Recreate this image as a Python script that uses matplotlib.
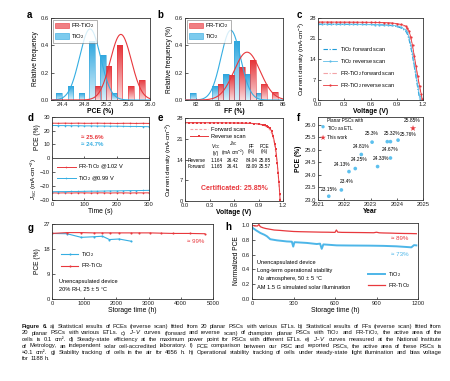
import numpy as np
import matplotlib
matplotlib.use("Agg")
import matplotlib.pyplot as plt
from matplotlib.colors import LinearSegmentedColormap
from matplotlib.patches import Patch
from matplotlib.ticker import FormatStrFormatter

plt.rcParams['font.family'] = ['Liberation Sans', 'DejaVu Sans']
plt.rcParams['mathtext.fontset'] = 'custom'
plt.rcParams['mathtext.rm'] = 'Liberation Sans'
plt.rcParams['mathtext.it'] = 'Liberation Sans:italic'
plt.rcParams['mathtext.bf'] = 'Liberation Sans:bold'

RED = '#e8383d'
BLUE = '#35aee2'
PINK = '#f3a3a6'

# --- a) PCE histogram (relative frequency), bins and gaussian fits (amp, centre, sigma)
pce_bins_ti = [24.4, 24.6, 24.8, 25.0, 25.2, 25.4]
pce_freq_ti = [0.05, 0.10, 0.05, 0.43, 0.33, 0.05]
pce_bins_fr = [25.0, 25.2, 25.4, 25.6, 25.8]
pce_freq_fr = [0.10, 0.25, 0.40, 0.10, 0.15]
pce_fit_ti = (0.52, 24.91, 0.19)
pce_fit_fr = (0.48, 25.47, 0.19)

# --- b) FF histogram
ff_bins_ti = [82.0, 83.0, 83.5, 84.0, 84.5, 85.0]
ff_freq_ti = [0.05, 0.10, 0.19, 0.43, 0.19, 0.05]
ff_bins_fr = [83.0, 83.5, 84.0, 84.5, 85.0, 85.5]
ff_freq_fr = [0.12, 0.18, 0.24, 0.29, 0.12, 0.06]
ff_fit_ti = (0.51, 83.6, 0.45)
ff_fit_fr = (0.35, 84.35, 0.60)

# --- c) J-V curves of champion cells
v_fr_rev = [0.0, 0.05, 0.1, 0.15, 0.2, 0.25, 0.3, 0.35, 0.4, 0.45, 0.5, 0.55, 0.6, 0.65, 0.7, 0.75, 0.8, 0.85, 0.9, 0.95,
            1.0, 1.02, 1.04, 1.06, 1.08, 1.1, 1.12, 1.14, 1.16, 1.18, 1.19]
j_fr_rev = [26.62, 26.62, 26.61, 26.61, 26.6, 26.6, 26.59, 26.59, 26.58, 26.57, 26.56, 26.55, 26.53, 26.51, 26.48, 26.44,
            26.38, 26.28, 26.1, 25.8, 25.3, 24.6, 23.6, 21.5, 18.7, 15.1, 11.6, 8.1, 4.8, 2.0, 0.5]
v_fr_fwd = [0.0, 0.1, 0.2, 0.3, 0.4, 0.5, 0.6, 0.7, 0.8, 0.85, 0.9, 0.95, 1.0, 1.02, 1.04, 1.06, 1.08, 1.1, 1.12, 1.14,
            1.16, 1.18, 1.185]
j_fr_fwd = [26.55, 26.54, 26.53, 26.52, 26.5, 26.48, 26.45, 26.4, 26.3, 26.18, 25.95, 25.55, 24.9, 24.1, 22.9, 20.8,
            18.0, 14.6, 11.2, 7.7, 4.4, 1.4, 0.3]
v_ti_rev = [0.0, 0.05, 0.1, 0.15, 0.2, 0.25, 0.3, 0.35, 0.4, 0.45, 0.5, 0.55, 0.6, 0.65, 0.7, 0.75, 0.8, 0.85, 0.9, 0.95,
            1.0, 1.02, 1.04, 1.06, 1.08, 1.1, 1.12, 1.14, 1.16, 1.17]
j_ti_rev = [25.92, 25.92, 25.91, 25.91, 25.9, 25.9, 25.89, 25.88, 25.87, 25.86, 25.85, 25.83, 25.81, 25.78, 25.74, 25.69,
            25.62, 25.5, 25.3, 24.9, 24.0, 23.3, 21.4, 18.9, 15.8, 12.3, 8.6, 4.9, 1.4, 0.2]
v_ti_fwd = [0.0, 0.1, 0.2, 0.3, 0.4, 0.5, 0.6, 0.7, 0.8, 0.85, 0.9, 0.95, 1.0, 1.02, 1.04, 1.06, 1.08, 1.1, 1.12, 1.14,
            1.16]
j_ti_fwd = [25.85, 25.84, 25.83, 25.82, 25.8, 25.78, 25.74, 25.66, 25.52, 25.38, 25.12, 24.6, 23.6, 22.6, 20.7, 18.1,
            15.0, 11.5, 7.8, 4.1, 0.6]

# --- d) steady-state output at MPP
t_d = [0, 20, 40, 60, 80, 100, 120, 140, 160, 180, 200, 220, 240, 260, 280, 300]
pce_d_fr = [25.5, 25.4, 25.5, 25.4, 25.5, 25.4, 25.4, 25.5, 25.4, 25.4, 25.3, 25.4, 25.4, 25.3, 25.4, 25.3]
pce_d_ti = [23.8, 23.7, 23.7, 23.6, 23.6, 23.5, 23.5, 23.4, 23.4, 23.3, 23.3, 23.2, 23.1, 23.1, 23.0, 22.9]
jsc_d_fr = [-24.9, -25.0, -24.9, -25.0, -24.9, -24.9, -25.0, -24.9, -24.9, -25.0, -24.9, -24.9, -25.0, -24.9, -24.9, -24.9]
jsc_d_ti = [-24.1, -24.0, -24.0, -23.9, -23.9, -23.8, -23.7, -23.7, -23.6, -23.5, -23.5, -23.4, -23.3, -23.3, -23.2, -23.1]

# --- e) certified J-V
v_e_rev = [0.0, 0.05, 0.1, 0.15, 0.2, 0.25, 0.3, 0.35, 0.4, 0.45, 0.5, 0.55, 0.6, 0.65, 0.7, 0.75, 0.8, 0.85, 0.9, 0.95,
           0.98, 1.0, 1.02, 1.04, 1.06, 1.08, 1.1, 1.11, 1.12, 1.13, 1.14, 1.15, 1.16, 1.164]
j_e_rev = [26.42, 26.42, 26.41, 26.41, 26.4, 26.4, 26.39, 26.39, 26.38, 26.37, 26.36, 26.35, 26.33, 26.31, 26.29, 26.26,
           26.21, 26.13, 26.0, 25.75, 25.5, 25.3, 25.0, 24.6, 23.6, 21.9, 19.3, 17.6, 15.3, 12.7, 9.6, 6.3, 2.5, 0.4]
v_e_fwd = [0.0, 0.1, 0.2, 0.3, 0.4, 0.5, 0.6, 0.7, 0.8, 0.85, 0.9, 0.95, 1.0, 1.02, 1.04, 1.06, 1.08, 1.1, 1.12, 1.14,
           1.16, 1.165]
j_e_fwd = [26.41, 26.4, 26.39, 26.38, 26.36, 26.34, 26.31, 26.26, 26.17, 26.07, 25.9, 25.6, 25.0, 24.6, 24.0, 22.9,
           21.3, 18.6, 14.6, 9.3, 2.6, 0.3]
e_table_cols = ['$V_{\\mathrm{OC}}$\n(V)', '$J_{\\mathrm{SC}}$\n(mA cm$^{-2}$)', 'FF\n(%)', 'PCE\n(%)']
e_table_rows = ['Reverse', 'Forward']
e_table_vals = [['1.164', '26.42', '84.04', '25.85'],
                ['1.165', '26.41', '83.09', '25.57']]

# --- f) literature comparison
f_year = [2021.41, 2021.89, 2022.18, 2022.42, 2022.65, 2023.06, 2023.27, 2023.64, 2023.76, 2023.76, 2024.05]
f_pce = [23.15, 23.4, 24.13, 24.25, 24.81, 25.3, 24.33, 25.32, 25.32, 24.67, 25.38]
f_labels = ['23.15%', '23.4%', '24.13%', '24.25%', '24.81%', '25.3%', '24.33%', '', '25.32%', '24.67%', '25.76%']
f_work_year = 2024.62
f_work_pce = 25.85
f_work_label = '25.85%'

# --- g) storage stability in air
t_g_ti = [0, 464, 907, 1289, 1567, 1784, 2082, 2454]
pce_g_ti = [23.6, 23.5, 22.2, 22.4, 22.6, 21.4, 21.6, 20.8]
t_g_fr = [0, 464, 907, 1289, 1567, 1804, 2082, 2454, 2701, 3041, 3381, 3763, 4278, 4742]
pce_g_fr = [23.6, 23.9, 23.9, 23.8, 23.8, 23.8, 23.8, 23.8, 23.8, 23.8, 23.7, 23.6, 23.6, 23.5]

# --- h) operational stability (normalised PCE)
t_h_fr = [0, 20, 40, 50, 60, 80, 100, 130, 160, 200, 250, 300, 350, 400, 450, 500, 550, 600, 610, 620, 650, 700,
          800, 880, 900, 920, 950, 1000, 1050, 1100, 1150, 1188]
pce_h_fr = [1.0, 0.99, 0.99, 1.01, 0.98, 0.965, 0.955, 0.945, 0.935, 0.93, 0.922, 0.915, 0.912, 0.91, 0.908, 0.906,
            0.905, 0.903, 0.935, 0.906, 0.903, 0.902, 0.9, 0.898, 0.905, 0.897, 0.895, 0.893, 0.89, 0.888, 0.887, 0.885]
t_h_ti = [0, 30, 60, 90, 108, 132, 180, 252, 288, 298, 307, 396, 468, 492, 504, 516, 612, 700, 852, 950, 1044, 1116,
          1152, 1171, 1188]
pce_h_ti = [0.97, 0.93, 0.895, 0.87, 0.85, 0.81, 0.795, 0.78, 0.777, 0.71, 0.77, 0.76, 0.745, 0.75, 0.68, 0.74, 0.727,
            0.725, 0.723, 0.72, 0.714, 0.705, 0.70, 0.73, 0.727]

caption_lines = [
    'Figure 6. a) Statistical results of PCEs (reverse scan) fitted from 20 planar PSCs with various ETLs. b) Statistical results of FFs (reverse scan) fitted from',
    '20 planar PSCs with various ETLs. c) $J$\u2013$V$ curves (forward and reverse scan) of champion planar PSCs with TiO$_2$ and FR-TiO$_2$, the active area of the',
    'cells is 0.1 cm\u00b2. d) Steady-state efficiency at the maximum power point for PSCs with different ETLs. e) $J$\u2013$V$ curves measured at the National Institute',
    'of Metrology, an independent solar cell-accredited laboratory. f) PCE comparison between our PSC and reported PSCs, the active area of these PSCs is',
    '\u22480.1 cm\u00b2. g) Stability tracking of cells in the air for 4656 h. h) Operational stability tracking of cells under steady-state light illumination and bias voltage',
    'for 1188 h.',
]

W, H = 450, 381
fig = plt.figure(figsize=(W / 100, H / 100), dpi=100)
TICK_FS = 4.2


def add_ax(l, t, r, b):
    return fig.add_axes([l / W, 1 - b / H, (r - l) / W, (b - t) / H])


def style(ax, fs=TICK_FS):
    ax.tick_params(direction='in', length=1.8, width=0.5, labelsize=fs, pad=1.5, colors='#222222')
    for s in ax.spines.values():
        s.set_linewidth(0.6)
        s.set_color('#333333')


def grad_bars(ax, xs, hs, w, c_bot, c_top):
    cmap = LinearSegmentedColormap.from_list('g', [c_bot, c_top])
    grad = np.linspace(0, 1, 64).reshape(-1, 1)
    for x, h in zip(xs, hs):
        bar = ax.bar(x, h, w, color='none', edgecolor=c_top, lw=0.4, zorder=3)[0]
        im = ax.imshow(grad, cmap=cmap, origin='lower', aspect='auto',
                       extent=(x - w / 2, x + w / 2, 0, h), zorder=2)
        im.set_clip_path(bar)


def gauss_curve(ax, xlim, fit, color):
    a, mu, s = fit
    xx = np.linspace(xlim[0], xlim[1], 300)
    ax.plot(xx, a * np.exp(-(xx - mu) ** 2 / (2 * s ** 2)), color=color, lw=0.8, zorder=4)


def hist_panel(ax, bins_ti, freq_ti, bins_fr, freq_fr, fit_ti, fit_fr, w, xlim):
    grad_bars(ax, [b - w / 2 for b in bins_ti], freq_ti, w, '#d6f0fb', '#2fa6de')
    grad_bars(ax, [b + w / 2 for b in bins_fr], freq_fr, w, '#fbd9da', '#e5343a')
    gauss_curve(ax, xlim, fit_ti, BLUE)
    gauss_curve(ax, xlim, fit_fr, RED)
    ax.set_xlim(xlim)
    ax.set_ylim(0, 0.6)
    ax.set_yticks([0.0, 0.2, 0.4, 0.6])
    handles = [Patch(facecolor='#f07f83', edgecolor=RED, lw=0.4, label='FR-TiO$_2$'),
               Patch(facecolor='#7ccbee', edgecolor='#2fa6de', lw=0.4, label='TiO$_2$')]
    leg = ax.legend(handles=handles, loc='upper left', fontsize=4.3, handlelength=2.4, handleheight=1.1,
                    borderpad=0.3, labelspacing=0.25, handletextpad=0.4, borderaxespad=0.3, fancybox=False)
    leg.get_frame().set_linewidth(0.4)
    leg.get_frame().set_edgecolor('#555555')
    style(ax)


# a
ax = add_ax(51, 18, 150, 100)
hist_panel(ax, pce_bins_ti, pce_freq_ti, pce_bins_fr, pce_freq_fr, pce_fit_ti, pce_fit_fr, 0.1, (24.2, 26.0))
ax.set_xticks([24.4, 24.8, 25.2, 25.6, 26.0])
ax.set_xlabel('PCE (%)', fontsize=4.9, fontweight='bold', labelpad=1)
ax.set_ylabel('Relative frequency', fontsize=4.8, labelpad=1.5)

# b
ax = add_ax(185, 18, 283, 100)
hist_panel(ax, ff_bins_ti, ff_freq_ti, ff_bins_fr, ff_freq_fr, ff_fit_ti, ff_fit_fr, 0.25, (81.5, 86.0))
ax.set_xticks([82, 83, 84, 85, 86])
ax.set_xlabel('FF (%)', fontsize=4.9, fontweight='bold', labelpad=1)
ax.set_ylabel('Relative frequency (%)', fontsize=4.8, labelpad=1.5)

# c
ax = add_ax(318, 18, 423, 100)
ax.plot(v_ti_fwd, j_ti_fwd, color='#1f9bd7', lw=0.8, ls=(0, (4, 1.5, 1, 1.5)), label='TiO$_2$ forward scan')
ax.plot(v_ti_rev, j_ti_rev, color='#5dbde8', lw=0.6, marker='o', ms=1.6, mew=0, label='TiO$_2$ reverse scan')
ax.plot(v_fr_fwd, j_fr_fwd, color=PINK, lw=0.8, ls=(0, (4, 1.5, 1, 1.5)), label='FR-TiO$_2$ forward scan')
ax.plot(v_fr_rev, j_fr_rev, color=RED, lw=0.6, marker='o', ms=1.6, mew=0, label='FR-TiO$_2$ reverse scan')
ax.set_xlim(0, 1.2)
ax.set_ylim(0, 28)
ax.set_xticks([0.0, 0.3, 0.6, 0.9, 1.2])
ax.set_yticks([0, 7, 14, 21, 28])
ax.set_xlabel('Voltage (V)', fontsize=4.9, fontweight='bold', labelpad=1)
ax.set_ylabel('Current density (mA$\\cdot$cm$^{-2}$)', fontsize=4.5, labelpad=1.5)
ax.legend(loc='upper left', bbox_to_anchor=(0.02, 0.7), fontsize=4.0, frameon=False, handlelength=2.6,
          labelspacing=0.55, handletextpad=0.5, borderpad=0)
style(ax)

# d (two stacked axes)
axt = add_ax(52, 117, 149, 158)
axb = add_ax(52, 158, 149, 200)
axt.plot(t_d, pce_d_fr, color=RED, lw=0.7, marker='o', ms=1.2, mew=0)
axt.plot(t_d, pce_d_ti, color=BLUE, lw=0.7, marker='o', ms=1.2, mew=0)
axt.text(0.3, 0.5, '\u2248 25.6%', color=RED, fontsize=4.4, fontweight='bold', transform=axt.transAxes, va='center')
axt.text(0.3, 0.34, '\u2248 24.7%', color=BLUE, fontsize=4.4, fontweight='bold', transform=axt.transAxes,
         va='center')
axt.set_xlim(0, 300)
axt.set_ylim(0, 30)
axt.set_yticks([0, 10, 20, 30])
axt.set_xticks([0, 100, 200, 300])
axt.tick_params(labelbottom=False)
axt.set_ylabel('PCE (%)', fontsize=4.8, labelpad=2)
style(axt)
axb.plot(t_d, jsc_d_fr, color=RED, lw=0.7, marker='o', ms=1.2, mew=0, label='FR-TiO$_2$ @1.02 V')
axb.plot(t_d, jsc_d_ti, color=BLUE, lw=0.7, marker='o', ms=1.2, mew=0, label='TiO$_2$ @0.99 V')
axb.set_xlim(0, 300)
axb.set_ylim(-30, 0)
axb.set_yticks([-30, -20, -10])
axb.set_xticks([0, 100, 200, 300])
axb.set_xlabel('Time (s)', fontsize=4.9, labelpad=1)
axb.set_ylabel('$J_{\\mathrm{SC}}$ (mA$\\cdot$cm$^{-2}$)', fontsize=4.6, labelpad=1)
axb.legend(loc='upper left', bbox_to_anchor=(0.02, 0.97), fontsize=4.1, frameon=False, handlelength=3.2,
           labelspacing=0.4, handletextpad=0.4, borderpad=0.1)
style(axb)

# e
ax = add_ax(185, 118, 283, 201)
ax.plot(v_e_fwd, j_e_fwd, color=PINK, lw=0.8, ls=(0, (2.5, 1.5)), label='Forward scan')
ax.plot(v_e_rev, j_e_rev, color=RED, lw=0.7, marker='s', ms=1.6, mew=0, label='Reverse scan')
ax.set_xlim(0, 1.2)
ax.set_ylim(0, 28)
ax.set_xticks([0.0, 0.3, 0.6, 0.9, 1.2])
ax.set_yticks([0, 7, 14, 21, 28])
ax.set_xlabel('Voltage (V)', fontsize=4.9, fontweight='bold', labelpad=1)
ax.set_ylabel('Current density (mA$\\cdot$cm$^{-2}$)', fontsize=4.5, labelpad=1.5)
ax.legend(loc='upper left', bbox_to_anchor=(0.02, 0.93), fontsize=4.1, frameon=False, handlelength=3.2,
          labelspacing=0.45, handletextpad=0.5, borderpad=0)
col_x = [0.32, 0.49, 0.68, 0.815]
for cx, head in zip(col_x, e_table_cols):
    ax.text(cx, 0.63, head, transform=ax.transAxes, fontsize=3.4, ha='center', va='center', linespacing=1.0)
for ri, (rname, vals) in enumerate(zip(e_table_rows, e_table_vals)):
    ry = 0.493 - ri * 0.082
    ax.text(0.03, ry, rname, transform=ax.transAxes, fontsize=3.4, va='center')
    for cx, v in zip(col_x, vals):
        ax.text(cx, ry, v, transform=ax.transAxes, fontsize=3.4, ha='center', va='center')
ax.text(0.5, 0.15, 'Certificated: 25.85%', transform=ax.transAxes, fontsize=5.0, fontweight='bold', color=RED,
        ha='center', va='center')
style(ax)

# f
ax = add_ax(318, 117, 423, 200)
ax.scatter(f_year, f_pce, s=7, color='#5cc0ee', edgecolor='none', zorder=3, label='Planar PSCs with\nTiO$_2$ as ETL')
ax.scatter([f_work_year], [f_work_pce], s=22, marker='*', color=RED, edgecolor='none', zorder=3, label='This work')
f_offsets = [(0, 3.4), (4, 4.5), (-5.3, 3.6), (2.6, 4.8), (0, 4.3), (-0.5, 4.1), (2.6, 4.3), (0, 0), (0.8, 4.3),
             (0, 4.3), (7.5, 2.2)]
for x, y, lab, off in zip(f_year, f_pce, f_labels, f_offsets):
    if lab:
        ax.annotate(lab, (x, y), xytext=off, textcoords='offset points', fontsize=3.5, ha='center', va='bottom')
ax.annotate(f_work_label, (f_work_year, f_work_pce), xytext=(-0.7, 3.6), textcoords='offset points',
            fontsize=3.5, ha='center', va='bottom')
ax.set_xlim(2021, 2025)
ax.set_ylim(23.0, 26.3)
ax.set_xticks([2021, 2022, 2023, 2024, 2025])
ax.set_yticks([23.0, 23.5, 24.0, 24.5, 25.0, 25.5, 26.0])
ax.yaxis.set_major_formatter(FormatStrFormatter('%.1f'))
ax.set_xlabel('Year', fontsize=4.9, fontweight='bold', labelpad=1)
ax.set_ylabel('PCE (%)', fontsize=4.9, fontweight='bold', labelpad=1.5)
ax.legend(loc='upper left', fontsize=3.3, frameon=False, handletextpad=0.1, labelspacing=0.3, borderpad=0.2,
          borderaxespad=0.1, markerscale=0.9, handlelength=1.6)
style(ax)

# g
ax = add_ax(52, 224, 213, 299)
ax.plot(t_g_ti, pce_g_ti, color=BLUE, lw=0.8, marker='o', ms=1.5, mew=0, label='TiO$_2$')
ax.plot(t_g_fr, pce_g_fr, color=RED, lw=0.8, marker='o', ms=1.5, mew=0, label='FR-TiO$_2$')
ax.text(0.84, 0.77, '\u2248 99%', transform=ax.transAxes, color=RED, fontsize=4.4, va='center')
ax.text(0.045, 0.23, 'Unencapsulated device', transform=ax.transAxes, fontsize=4.1, va='center')
ax.text(0.045, 0.13, '20% RH, 25 \u00b1 5 \u00b0C', transform=ax.transAxes, fontsize=4.1, va='center')
ax.set_xlim(0, 5000)
ax.set_ylim(0, 27)
ax.set_xticks([0, 1000, 2000, 3000, 4000, 5000])
ax.set_yticks([0, 9, 18, 27])
ax.set_xlabel('Storage time (h)', fontsize=4.9, labelpad=1)
ax.set_ylabel('PCE (%)', fontsize=4.8, labelpad=1.5)
ax.legend(loc='upper left', bbox_to_anchor=(0.04, 0.69), fontsize=4.1, frameon=False, handlelength=3.0,
          labelspacing=0.45, handletextpad=0.5, borderpad=0)
style(ax)

# h
ax = add_ax(252, 223, 418, 299)
ax.plot(t_h_ti, pce_h_ti, color='#4db6e8', lw=1.4, label='TiO$_2$')
ax.plot(t_h_fr, pce_h_fr, color=RED, lw=0.9, label='FR-TiO$_2$')
ax.text(0.84, 0.79, '\u2248 89%', transform=ax.transAxes, color=RED, fontsize=4.4, va='center')
ax.text(0.84, 0.59, '\u2248 73%', transform=ax.transAxes, color='#4db6e8', fontsize=4.4, va='center')
h_notes = ['Unencapsulated device', 'Long-term operational stability', 'N$_2$ atmosphere, 50 \u00b1 5 \u00b0C',
           'AM 1.5 G simulated solar illumination']
for i, note in enumerate(h_notes):
    ax.text(0.033, 0.485 - i * 0.11, note, transform=ax.transAxes, fontsize=4.1, va='center')
ax.set_xlim(0, 1200)
ax.set_ylim(0, 1.03)
ax.set_xticks([0, 300, 600, 900, 1200])
ax.set_yticks([0.0, 0.2, 0.4, 0.6, 0.8, 1.0])
ax.set_xlabel('Storage time (h)', fontsize=4.9, labelpad=1)
ax.set_ylabel('Normalized PCE', fontsize=4.8, labelpad=1.5)
ax.legend(loc='upper left', bbox_to_anchor=(0.68, 0.42), fontsize=4.1, frameon=False, handlelength=3.0,
          labelspacing=0.45, handletextpad=0.5, borderpad=0)
style(ax)

# panel letters
for letter, (px, py) in zip('abcdefgh', [(27, 15), (157, 15), (297, 15), (28, 118), (158, 118), (297, 118),
                                          (28, 228), (225, 227)]):
    fig.text(px / W, 1 - py / H, letter, fontsize=7, fontweight='bold', va='center', ha='left')

# caption: size chosen so the longest line fits, then justified word by word on a common baseline
renderer = fig.canvas.get_renderer()
x0_px, x1_px = 22, 442
span = x1_px - x0_px
probe_fs = 4.0
space_px = 0.278 * probe_fs * 100 / 72
line_words = [line.split(' ') for line in caption_lines]
probe_w = []
for i, words in enumerate(line_words):
    total = 0
    for k, wd in enumerate(words):
        t = fig.text(0, 0, wd, fontsize=probe_fs, fontweight='bold' if (i == 0 and k < 2) else 'normal')
        total += t.get_window_extent(renderer).width
        t.remove()
    probe_w.append(total + space_px * (len(words) - 1))
cap_fs = probe_fs * span / max(probe_w[:-1]) * 0.95

for i, words in enumerate(line_words):
    y = 1 - (328 + i * 6.5) / H
    texts = [fig.text(0, y, wd, fontsize=cap_fs, fontweight='bold' if (i == 0 and k < 2) else 'normal',
                      va='baseline', ha='left', color='#111111') for k, wd in enumerate(words)]
    widths = [t.get_window_extent(renderer).width for t in texts]
    if i < len(line_words) - 1:
        gap = (span - sum(widths)) / (len(words) - 1)
    else:
        gap = 0.278 * cap_fs * 100 / 72
    x = x0_px
    for t, wdt in zip(texts, widths):
        t.set_x(x / W)
        x += wdt + gap

fig.savefig('out.png', dpi=100)
